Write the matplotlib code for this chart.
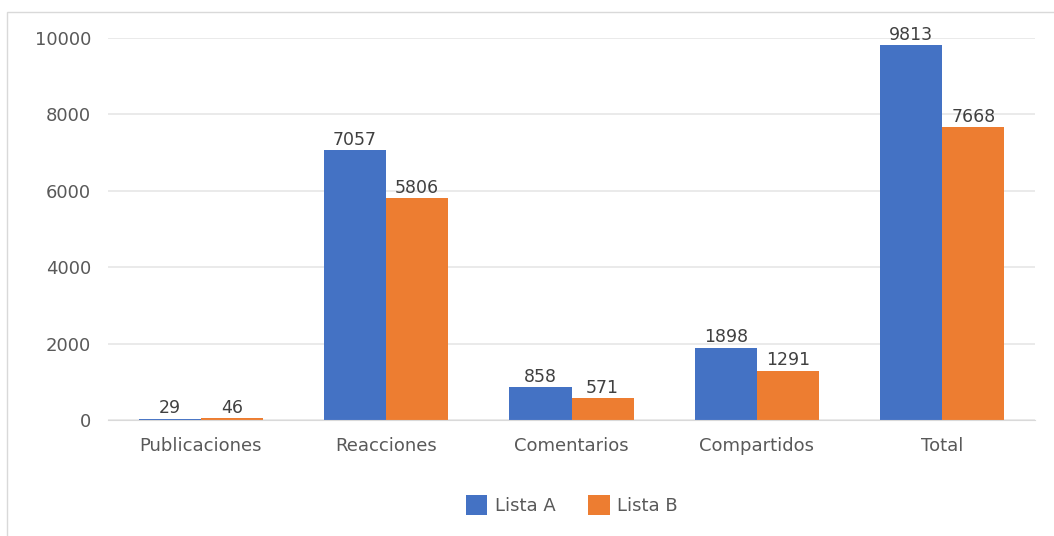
import numpy as np
import matplotlib.pyplot as plt
from matplotlib.patches import Rectangle

categorias = ['Publicaciones', 'Reacciones', 'Comentarios', 'Compartidos', 'Total']
lista_a = [29, 7057, 858, 1898, 9813]
lista_b = [46, 5806, 571, 1291, 7668]
series = ['Lista A', 'Lista B']
colores = ['#4472C4', '#ED7D31']

fig = plt.figure(figsize=(10.54, 5.36), dpi=100)
ax = fig.add_axes([0.1025, 0.2164, 0.8795, 0.7127])

# borde del gráfico
fig.patches.append(Rectangle((7 / 1054, -0.01), 1.02, 1 - 12 / 536 + 0.01,
                             transform=fig.transFigure, fill=False,
                             edgecolor='#D9D9D9', linewidth=1))

x = np.arange(len(categorias))
w = 0.335
for i, (vals, nombre) in enumerate(zip([lista_a, lista_b], series)):
    pos = x + (i - 0.5) * w
    barras = ax.bar(pos, vals, w, color=colores[i], label=nombre, zorder=2)
    for b, v in zip(barras, vals):
        ax.text(b.get_x() + b.get_width() / 2, v + 40, str(v),
                ha='center', va='bottom', fontsize=12.5, color='#404040')

ax.set_xlim(-0.5, len(categorias) - 0.5)
ax.set_ylim(0, 10000)
ax.set_yticks(range(0, 10001, 2000))
ax.set_xticks(x)
ax.set_xticklabels(categorias)
ax.tick_params(axis='both', length=0, labelsize=13, labelcolor='#595959')
ax.tick_params(axis='x', pad=12)
ax.tick_params(axis='y', pad=12)
ax.grid(axis='y', color='#E6E6E6', linewidth=1.2, zorder=0)
for s in ['top', 'right', 'left']:
    ax.spines[s].set_visible(False)
ax.spines['bottom'].set_color('#D9D9D9')

ax.legend(loc='center', bbox_to_anchor=(0.5, (505 / 536 * -1 + 1 - 0.2164) / 0.7127),
          ncol=2, frameon=False, fontsize=13, handlelength=1.2, handleheight=1.3,
          handletextpad=0.4, columnspacing=1.8, labelcolor='#595959')

fig.savefig('out.png', dpi=100)
